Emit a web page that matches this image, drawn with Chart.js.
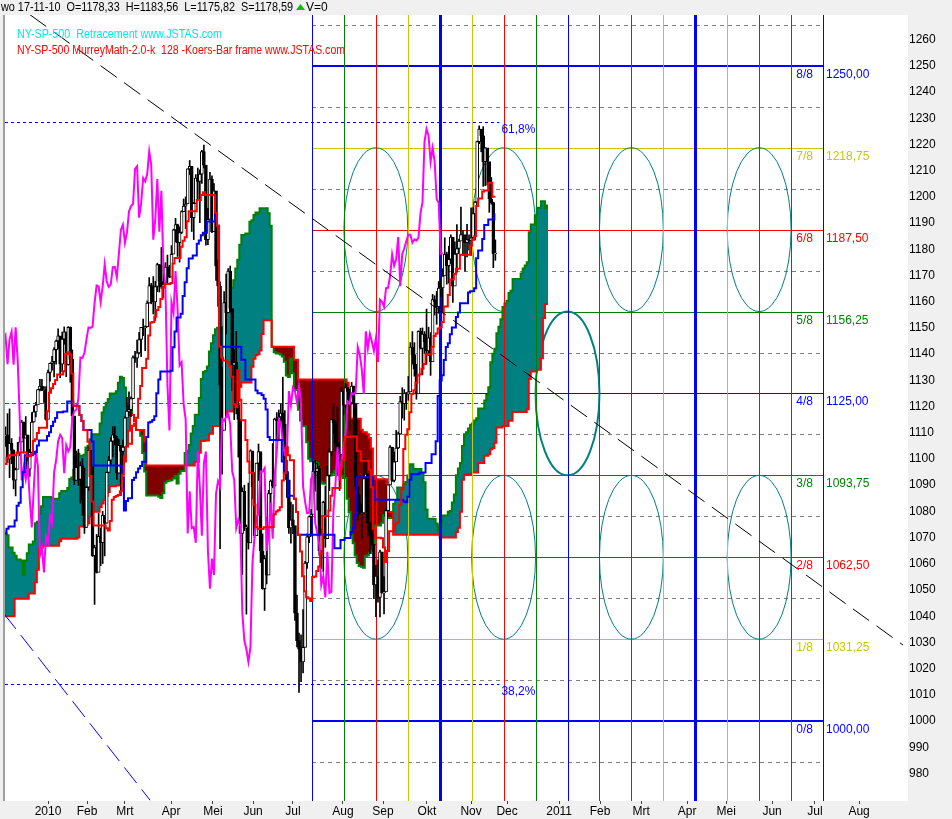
<!DOCTYPE html>
<html>
<head>
<meta charset="utf-8">
<title>NY-SP-500 Ichimoku / MurreyMath</title>
<script src="https://cdn.jsdelivr.net/npm/chart.js@4.4.0/dist/chart.umd.min.js"></script>
<style>
  html, body { margin: 0; padding: 0; background: #f0f0f0; }
  canvas { display: block; }
</style>
</head>
<body>
<canvas id="chart" width="952" height="819"></canvas>
<script>
// Daily S&P 500 bars (high / low / close). Aug-Nov 2009 are only there to feed the Ichimoku lines.
const hiAug09 = [1003.6, 1005.8, 1006.6, 1008.0, 1018.0, 1010.1, 1005.8, 1012.8, 1013.1, 1012.6, 998.6, 991.2, 999.0, 1008.9, 1027.6, 1035.8, 1037.8, 1032.5, 1033.0, 1039.5, 1025.2];
const loAug09 = [990.2, 994.7, 994.3, 992.5, 1001.0, 1001.0, 992.4, 993.4, 1000.9, 994.6, 978.5, 980.6, 978.5, 996.4, 1009.6, 1022.5, 1026.2, 1021.0, 1016.2, 1023.1, 1014.6];
const clAug09 = [1002.6, 1005.7, 1002.7, 997.1, 1010.5, 1007.1, 994.4, 1005.8, 1012.7, 1004.1, 979.7, 989.7, 996.5, 1007.4, 1026.1, 1025.6, 1028.0, 1028.1, 1031.0, 1028.9, 1020.6];

const hiSep09 = [1028.5, 1000.3, 1003.4, 1016.5, 1026.1, 1036.3, 1044.1, 1048.2, 1049.7, 1056.0, 1068.8, 1074.8, 1071.5, 1067.3, 1073.8, 1080.2, 1066.3, 1053.5, 1065.1, 1069.6, 1063.4];
const loSep09 = [996.3, 992.0, 992.3, 1001.7, 1018.7, 1018.8, 1028.0, 1038.4, 1035.0, 1043.4, 1052.6, 1061.2, 1064.3, 1057.5, 1066.4, 1060.4, 1045.9, 1041.2, 1044.4, 1057.8, 1046.5];
const clSep09 = [998.0, 994.8, 1003.2, 1016.4, 1025.4, 1033.4, 1044.1, 1042.7, 1049.3, 1052.6, 1068.8, 1065.5, 1068.3, 1064.7, 1071.7, 1060.9, 1050.8, 1044.4, 1063.0, 1060.6, 1057.1];

const hiOct09 = [1054.6, 1030.6, 1042.6, 1060.6, 1058.0, 1070.7, 1073.0, 1079.5, 1075.1, 1093.2, 1096.6, 1094.7, 1098.6, 1098.6, 1101.4, 1095.2, 1095.8, 1094.4, 1072.5, 1063.4, 1066.8, 1070.2];
const loOct09 = [1029.5, 1020.0, 1021.0, 1041.2, 1050.5, 1057.6, 1063.4, 1071.6, 1067.4, 1078.7, 1086.4, 1081.5, 1086.2, 1086.2, 1080.8, 1074.3, 1075.3, 1063.4, 1060.6, 1042.2, 1042.6, 1034.0];
const clOct09 = [1029.9, 1025.2, 1040.5, 1054.7, 1057.6, 1065.5, 1071.5, 1076.2, 1073.2, 1092.0, 1096.6, 1087.7, 1097.9, 1091.1, 1081.4, 1092.9, 1079.6, 1067.0, 1063.4, 1042.6, 1066.1, 1036.2];

const hiNov09 = [1052.2, 1046.0, 1061.0, 1066.6, 1071.5, 1093.2, 1096.1, 1105.4, 1101.4, 1097.6, 1113.7, 1110.3, 1111.1, 1106.0, 1094.7, 1112.4, 1107.6, 1111.1, 1105.7, 1097.2];
const loNov09 = [1029.4, 1033.9, 1045.2, 1047.5, 1059.3, 1071.0, 1087.4, 1093.0, 1085.0, 1085.3, 1094.2, 1102.2, 1102.7, 1088.4, 1086.8, 1094.2, 1097.6, 1104.8, 1083.7, 1086.3];
const clNov09 = [1042.9, 1045.4, 1046.5, 1066.6, 1069.3, 1093.1, 1093.0, 1098.5, 1087.2, 1093.5, 1109.3, 1110.3, 1109.8, 1094.9, 1091.4, 1106.2, 1105.7, 1110.6, 1091.5, 1095.6];

const hiDec09 = [1110.7, 1112.3, 1117.3, 1119.1, 1107.8, 1103.5, 1096.5, 1106.3, 1108.4, 1114.8, 1114.1, 1116.2, 1106.9, 1103.7, 1117.7, 1120.3, 1121.6, 1126.5, 1130.4, 1130.4, 1127.6, 1127.6];
const loDec09 = [1097.6, 1104.8, 1098.7, 1092.9, 1098.2, 1088.6, 1085.9, 1098.3, 1101.3, 1107.7, 1102.3, 1108.0, 1093.9, 1093.4, 1102.5, 1114.0, 1116.0, 1121.0, 1126.0, 1126.1, 1121.6, 1114.8];
const clDec09 = [1108.9, 1109.2, 1099.9, 1106.0, 1103.3, 1091.9, 1096.0, 1102.4, 1106.4, 1114.1, 1107.9, 1109.2, 1096.1, 1102.5, 1114.1, 1118.0, 1120.6, 1126.5, 1127.8, 1126.2, 1126.4, 1115.1];

const hiJan10 = [1133.9, 1136.6, 1139.2, 1142.5, 1145.4, 1149.7, 1143.0, 1148.4, 1150.4, 1147.8, 1150.5, 1150.4, 1141.6, 1115.5, 1103.0, 1103.7, 1098.9, 1100.2, 1096.5];
const loJan10 = [1116.6, 1129.7, 1133.9, 1131.3, 1136.2, 1142.0, 1131.0, 1133.2, 1143.8, 1131.4, 1135.8, 1129.3, 1114.8, 1090.2, 1092.4, 1089.9, 1083.1, 1078.5, 1071.6];
const clJan10 = [1133.0, 1136.5, 1137.1, 1141.7, 1145.0, 1147.0, 1136.2, 1145.7, 1148.5, 1136.0, 1150.2, 1138.0, 1116.5, 1091.8, 1096.8, 1092.2, 1097.5, 1084.5, 1073.9];

const hiFeb10 = [1089.4, 1104.7, 1102.7, 1097.2, 1067.1, 1071.2, 1079.3, 1073.7, 1080.0, 1077.8, 1095.0, 1101.0, 1108.2, 1112.4, 1112.3, 1108.6, 1107.4, 1103.5, 1107.2];
const loFeb10 = [1073.9, 1088.0, 1094.0, 1062.8, 1044.5, 1056.5, 1058.6, 1059.3, 1060.1, 1063.0, 1075.5, 1094.7, 1097.7, 1100.8, 1105.4, 1092.2, 1094.6, 1086.0, 1097.6];
const clFeb10 = [1089.2, 1103.3, 1097.3, 1063.1, 1066.2, 1056.7, 1070.5, 1068.1, 1078.5, 1075.5, 1094.9, 1099.5, 1106.8, 1109.2, 1108.0, 1094.6, 1105.2, 1102.9, 1104.5];

const hiMar10 = [1116.1, 1123.5, 1125.6, 1123.7, 1139.4, 1141.1, 1145.4, 1148.3, 1150.2, 1153.4, 1150.8, 1160.3, 1169.2, 1167.0, 1169.6, 1167.8, 1174.7, 1174.2, 1180.7, 1173.9, 1174.9, 1177.8, 1173.9];
const loMar10 = [1105.4, 1116.5, 1116.6, 1116.1, 1125.1, 1136.8, 1134.9, 1140.1, 1139.0, 1147.0, 1141.3, 1150.4, 1159.5, 1159.2, 1155.3, 1152.9, 1163.8, 1163.7, 1165.1, 1161.5, 1167.7, 1167.3, 1169.2];
const clMar10 = [1115.7, 1118.3, 1118.8, 1123.0, 1138.7, 1138.5, 1140.5, 1145.6, 1150.2, 1150.0, 1150.5, 1159.5, 1166.2, 1165.8, 1159.9, 1165.8, 1174.2, 1167.7, 1165.7, 1166.6, 1173.2, 1173.3, 1169.4];

const hiApr10 = [1181.4, 1187.7, 1191.8, 1189.6, 1188.6, 1194.7, 1199.2, 1200.0, 1210.7, 1213.9, 1210.2, 1197.9, 1208.5, 1211.0, 1210.3, 1217.8, 1219.8, 1211.4, 1195.6, 1209.4, 1208.0];
const loApr10 = [1170.7, 1178.7, 1182.8, 1177.3, 1175.1, 1186.0, 1194.7, 1187.9, 1198.7, 1208.5, 1186.8, 1183.7, 1197.5, 1198.9, 1190.2, 1205.1, 1211.1, 1181.6, 1181.8, 1193.4, 1186.3];
const clApr10 = [1178.1, 1187.4, 1189.4, 1182.5, 1186.4, 1194.4, 1196.5, 1197.3, 1210.7, 1211.7, 1192.1, 1197.5, 1207.2, 1205.9, 1208.7, 1217.3, 1212.1, 1183.7, 1191.4, 1206.8, 1186.7];

const hiMay10 = [1205.1, 1197.0, 1176.0, 1167.6, 1135.1, 1163.9, 1170.5, 1172.6, 1173.6, 1157.2, 1141.8, 1148.7, 1124.3, 1107.3, 1089.0, 1090.0, 1074.8, 1090.8, 1103.5, 1102.7];
const loMay10 = [1188.6, 1168.1, 1158.2, 1065.8, 1094.2, 1112.0, 1147.7, 1155.7, 1156.1, 1126.1, 1115.0, 1117.2, 1100.7, 1071.6, 1055.9, 1072.7, 1040.8, 1065.6, 1069.7, 1084.8];
const clMay10 = [1202.3, 1173.6, 1165.9, 1128.2, 1110.9, 1159.7, 1155.8, 1171.7, 1157.4, 1135.7, 1136.9, 1120.8, 1115.1, 1071.6, 1087.7, 1073.6, 1074.0, 1068.0, 1103.1, 1089.4];

const hiJun10 = [1094.8, 1098.4, 1105.7, 1098.6, 1071.4, 1063.2, 1077.7, 1088.0, 1092.0, 1105.9, 1115.6, 1117.7, 1118.7, 1121.0, 1131.2, 1118.5, 1099.6, 1088.2, 1083.6, 1082.6, 1071.0, 1048.1];
const loJun10 = [1069.9, 1072.1, 1091.8, 1060.5, 1050.3, 1042.2, 1052.3, 1058.0, 1077.7, 1089.0, 1091.7, 1107.2, 1107.1, 1113.9, 1108.2, 1094.2, 1085.3, 1071.6, 1067.9, 1071.5, 1038.4, 1028.3];
const clJun10 = [1070.7, 1098.4, 1102.8, 1064.9, 1050.5, 1062.0, 1055.7, 1086.8, 1091.6, 1089.6, 1115.2, 1114.6, 1116.0, 1117.5, 1113.2, 1095.3, 1092.0, 1073.7, 1076.8, 1074.6, 1041.2, 1030.7];

const hiJul10 = [1033.6, 1032.9, 1042.5, 1060.9, 1071.3, 1078.2, 1080.8, 1099.1, 1099.5, 1098.4, 1097.2, 1073.1, 1083.9, 1089.7, 1097.5, 1103.7, 1115.0, 1121.0, 1114.7, 1119.9, 1106.4];
const loJul10 = [1010.9, 1015.0, 1018.4, 1028.3, 1058.2, 1068.1, 1070.5, 1080.5, 1087.7, 1080.5, 1063.3, 1058.2, 1056.9, 1066.3, 1071.8, 1087.9, 1101.3, 1109.8, 1103.1, 1093.9, 1088.0];
const clJul10 = [1027.4, 1022.6, 1028.1, 1060.3, 1070.3, 1078.0, 1078.8, 1095.3, 1095.2, 1096.5, 1064.9, 1071.3, 1083.5, 1069.6, 1093.7, 1102.7, 1115.0, 1113.8, 1106.1, 1101.5, 1101.6];

const hiAug10 = [1127.3, 1125.4, 1128.8, 1126.6, 1126.6, 1129.2, 1127.8, 1114.6, 1086.6, 1086.3, 1082.6, 1100.1, 1099.8, 1092.8, 1075.6, 1081.6, 1067.4, 1059.4, 1061.5, 1065.2, 1064.3, 1055.1];
const loAug10 = [1107.7, 1116.8, 1119.5, 1118.8, 1111.0, 1120.9, 1108.5, 1088.5, 1076.7, 1079.0, 1069.5, 1079.4, 1085.8, 1070.7, 1063.9, 1067.1, 1046.7, 1039.8, 1045.4, 1039.7, 1048.8, 1040.9];
const clAug10 = [1125.9, 1120.5, 1127.2, 1125.8, 1121.6, 1127.8, 1121.1, 1089.5, 1083.6, 1079.3, 1079.4, 1092.5, 1094.2, 1075.6, 1071.7, 1067.4, 1051.9, 1055.3, 1047.2, 1064.6, 1048.9, 1049.3];

const hiSep10 = [1081.3, 1090.1, 1105.1, 1103.1, 1102.6, 1110.9, 1110.3, 1123.9, 1127.2, 1126.5, 1125.4, 1131.5, 1144.4, 1148.6, 1144.4, 1136.1, 1148.9, 1149.9, 1150.0, 1148.6, 1157.2];
const loSep10 = [1049.7, 1080.4, 1094.6, 1091.4, 1091.2, 1101.0, 1103.9, 1109.6, 1115.6, 1114.8, 1118.9, 1122.4, 1125.6, 1136.2, 1131.6, 1122.8, 1131.0, 1142.0, 1132.1, 1140.3, 1136.1];
const clSep10 = [1080.3, 1090.1, 1104.5, 1091.8, 1098.9, 1104.2, 1109.6, 1121.9, 1121.1, 1125.1, 1124.7, 1125.6, 1142.7, 1139.8, 1134.3, 1124.8, 1148.7, 1142.2, 1147.7, 1144.7, 1141.2];

const hiOct10 = [1150.3, 1148.2, 1162.8, 1162.3, 1163.9, 1167.7, 1168.7, 1172.6, 1184.4, 1178.9, 1181.2, 1185.5, 1178.8, 1182.9, 1189.4, 1183.9, 1196.1, 1187.1, 1183.4, 1189.5, 1185.5];
const loOct10 = [1139.4, 1131.9, 1140.7, 1154.9, 1151.4, 1155.6, 1162.0, 1155.7, 1171.3, 1166.7, 1167.1, 1174.6, 1159.7, 1166.7, 1171.2, 1178.3, 1184.7, 1177.7, 1171.7, 1177.1, 1179.7];
const clOct10 = [1146.2, 1137.0, 1160.8, 1160.0, 1158.1, 1165.2, 1165.3, 1169.8, 1178.1, 1173.8, 1176.2, 1184.7, 1165.9, 1178.2, 1180.3, 1183.1, 1185.6, 1185.6, 1182.5, 1183.8, 1183.3];

const hiNov10 = [1195.8, 1195.9, 1198.3, 1221.3, 1227.1, 1224.6, 1226.8, 1218.8, 1215.5, 1210.5, 1207.4, 1198.0, 1183.6];
const loNov10 = [1177.7, 1187.9, 1183.6, 1198.3, 1220.3, 1217.2, 1204.0, 1204.3, 1204.5, 1194.1, 1197.2, 1173.0, 1175.8];
const clNov10 = [1184.4, 1193.6, 1198.0, 1221.1, 1225.9, 1223.3, 1213.4, 1218.7, 1213.5, 1199.2, 1197.8, 1178.3, 1178.6];

// quote line of the last bar
const headerQuote = ['wo 17-11-10', 'O=1178,33', 'H=1183,56', 'L=1175,82', 'S=1178,59'];

// bottom axis: month ticks in bar units (bar 0 = 1 Dec 2009)
const monthTicks = [22, 41.3, 60, 82.8, 103.5, 123.3, 143, 167.7, 187.5, 209.2, 231, 248.8, 274.5, 294.7, 315, 337.7, 357, 379.7, 400.9, 422.7];
const monthLabels = ['2010', 'Feb', 'Mrt', 'Apr', 'Mei', 'Jun', 'Jul', 'Aug', 'Sep', 'Okt', 'Nov', 'Dec', '2011', 'Feb', 'Mrt', 'Apr', 'Mei', 'Jun', 'Jul', 'Aug'];
const priceTicks = [980, 990, 1000, 1010, 1020, 1030, 1040, 1050, 1060, 1070, 1080, 1090, 1100, 1110, 1120, 1130, 1140, 1150, 1160, 1170, 1180, 1190, 1200, 1210, 1220, 1230, 1240, 1250, 1260];

// MurreyMath frame (128 bars wide, 16 columns)
const murreyLevels = [1000, 1031.25, 1062.5, 1093.75, 1125, 1156.25, 1187.5, 1218.75, 1250];
const murreyNames = ['0/8', '1/8', '2/8', '3/8', '4/8', '5/8', '6/8', '7/8', '8/8'];
const murreyTexts = ['1000,00', '1031,25', '1062,50', '1093,75', '1125,00', '1156,25', '1187,50', '1218,75', '1250,00'];
const murreyColors = ['#0000ff', '#c8c800', '#ff0000', '#008000', '#0000ff', '#008000', '#ff0000', '#c8c800', '#0000ff'];
const murreyWidths = [2, 1, 1, 1, 1, 1, 1, 1, 2];
const halfLevels = [984.375, 1015.625, 1046.875, 1078.125, 1109.375, 1140.625, 1171.875, 1203.125, 1234.375, 1265.625];
const murreyStep = 31.25;
const frameStart = 152.4;
const frameStep = 15.78;
const frameColors = ['#0000ff', '#008000', '#ff0000', '#c8c800', '#0000ff', '#c8c800', '#ff0000', '#008000', '#0000ff',
                     '#008000', '#ff0000', '#c8c800', '#0000ff', '#c8c800', '#ff0000', '#008000', '#0000ff'];
const frameWidths = [1, 1, 1, 1, 3, 1, 1, 1, 1, 1, 1, 1, 3, 1, 1, 1, 1];
const ellipseCols = [2, 6, 10, 14];
const ellipseLevels = [1187.5, 1062.5];
const boldEllipse = { col: 8, level: 1125 };

// retracement and other helper lines
const retraceLevels = [1228.6, 1014.2];
const retraceNames = ['61,8%', '38,2%'];
const retraceEnd = 245;
const redDash = { level: 1121.4, end: 243 };
const trendBlack = [{ x: 13.1, y: 1269.5 }, { x: 444.4, y: 1029.0 }];
const trendBlue = [{ x: 0, y: 1041.2 }, { x: 72.4, y: 969.8 }];

const highs = [].concat(hiAug09, hiSep09, hiOct09, hiNov09, hiDec09, hiJan10, hiFeb10, hiMar10, hiApr10, hiMay10, hiJun10, hiJul10, hiAug10, hiSep10, hiOct10, hiNov10);
const lows = [].concat(loAug09, loSep09, loOct09, loNov09, loDec09, loJan10, loFeb10, loMar10, loApr10, loMay10, loJun10, loJul10, loAug10, loSep10, loOct10, loNov10);
const closes = [].concat(clAug09, clSep09, clOct09, clNov09, clDec09, clJan10, clFeb10, clMar10, clApr10, clMay10, clJun10, clJul10, clAug10, clSep10, clOct10, clNov10);
const firstVisible = clAug09.length + clSep09.length + clOct09.length + clNov09.length;

// midpoint of the highest high and lowest low over the last len bars
function midRange(k, len) {
    const from = Math.max(0, k - len + 1);
    const hi = Math.max(...highs.slice(from, k + 1));
    const lo = Math.min(...lows.slice(from, k + 1));
    return (hi + lo) / 2;
}

// Build the Ichimoku lines and the candles
const tenkan = [], kijun = [], chikou = [], senkouA = [], senkouB = [], bodies = [], wicks = [];
for (let k = 0; k < closes.length; k++) {
    const bar = k - firstVisible;
    if (bar >= -2) {
        tenkan.push({ x: bar, y: midRange(k, 9) });
        kijun.push({ x: bar, y: midRange(k, 26) });
        bodies.push({ x: bar, y: [closes[k - 1], closes[k]] });
        wicks.push({ x: bar, y: [lows[k], highs[k]] });
    }
    if (bar - 26 >= -2) chikou.push({ x: bar - 26, y: closes[k] });
    if (k >= 51 && bar + 26 >= -2) {
        senkouA.push({ x: bar + 26, y: (midRange(k, 9) + midRange(k, 26)) / 2 });
        senkouB.push({ x: bar + 26, y: midRange(k, 52) });
    }
}

function hLine(ctx, xa, xb, y, width) {
    const yy = width % 2 ? Math.round(y) + 0.5 : Math.round(y);
    ctx.lineWidth = width;
    ctx.beginPath();
    ctx.moveTo(xa, yy);
    ctx.lineTo(xb, yy);
    ctx.stroke();
}

// Background, MurreyMath grid, ellipses, texts
const framePlugin = {
    id: 'frame',
    beforeDraw(chart) {
        const { ctx, chartArea: a, scales: { x, y } } = chart;
        ctx.save();
        ctx.fillStyle = '#f0f0f0';
        ctx.fillRect(0, 0, chart.width, chart.height);
        ctx.fillStyle = '#ffffff';
        ctx.fillRect(a.left, a.top, a.right - a.left, a.bottom - a.top);
        ctx.fillStyle = '#a0a0a0';
        ctx.fillRect(a.left - 2, a.top, 2, a.bottom - a.top);

        ctx.beginPath();
        ctx.rect(a.left, a.top, a.right - a.left, a.bottom - a.top);
        ctx.clip();

        const fx0 = Math.round(x.getPixelForValue(frameStart));
        const fx1 = Math.round(x.getPixelForValue(frameStart + 16 * frameStep));

        // 1/16 levels
        ctx.strokeStyle = '#808080';
        ctx.setLineDash([4, 4]);
        halfLevels.forEach(v => hLine(ctx, fx0, fx1, y.getPixelForValue(v), 1));

        ctx.strokeStyle = '#ff0000';
        ctx.setLineDash([4, 3]);
        hLine(ctx, a.left, x.getPixelForValue(redDash.end), y.getPixelForValue(redDash.level), 1);

        ctx.strokeStyle = '#0000ff';
        ctx.setLineDash([3, 3]);
        retraceLevels.forEach(v => hLine(ctx, a.left, x.getPixelForValue(retraceEnd), y.getPixelForValue(v), 1));
        ctx.setLineDash([]);

        // 0/8 .. 8/8 levels
        murreyLevels.forEach((v, i) => {
            ctx.strokeStyle = murreyColors[i];
            hLine(ctx, fx0, fx1, y.getPixelForValue(v), murreyWidths[i]);
        });

        // time/price ellipses
        const drawEllipse = (col, level, width) => {
            const cx = x.getPixelForValue(frameStart + col * frameStep);
            const rx = x.getPixelForValue(frameStart + (col + 1) * frameStep) - cx;
            const cy = y.getPixelForValue(level);
            const ry = y.getPixelForValue(level - murreyStep) - cy;
            ctx.strokeStyle = '#008080';
            ctx.lineWidth = width;
            ctx.beginPath();
            ctx.ellipse(cx, cy, rx, ry, 0, 0, Math.PI * 2);
            ctx.stroke();
        };
        ellipseLevels.forEach(level => ellipseCols.forEach(col => drawEllipse(col, level, 1)));
        drawEllipse(boldEllipse.col, boldEllipse.level, 2);
        ctx.restore();
    },
    beforeDatasetDraw(chart, args) {
        // vertical frame lines go over the cloud but under the candles
        if (args.index !== 4) return;
        const { ctx, chartArea: a, scales: { x } } = chart;
        ctx.save();
        frameColors.forEach((c, k) => {
            const w = frameWidths[k];
            const px = Math.round(x.getPixelForValue(frameStart + k * frameStep)) + (w % 2 ? 0.5 : 0);
            ctx.strokeStyle = c;
            ctx.lineWidth = w;
            ctx.beginPath();
            ctx.moveTo(px, a.top);
            ctx.lineTo(px, a.bottom);
            ctx.stroke();
        });
        ctx.restore();
    },
    afterDatasetsDraw(chart) {
        const { ctx, scales: { x, y } } = chart;
        const fx1 = Math.round(x.getPixelForValue(frameStart + 16 * frameStep));
        ctx.save();
        ctx.font = '12px "Liberation Sans", Arial, sans-serif';
        ctx.textBaseline = 'alphabetic';
        murreyLevels.forEach((v, i) => {
            const py = Math.round(y.getPixelForValue(v)) + 12;
            ctx.fillStyle = murreyColors[i];
            ctx.textAlign = 'right';
            ctx.fillText(murreyNames[i], fx1 - 10, py);
            ctx.textAlign = 'left';
            ctx.fillText(murreyTexts[i], fx1 + 3, py);
        });
        ctx.fillStyle = '#0000ff';
        ctx.textAlign = 'left';
        retraceLevels.forEach((v, i) => {
            ctx.fillText(retraceNames[i], x.getPixelForValue(retraceEnd) + 2, Math.round(y.getPixelForValue(v)) + 11);
        });

        ctx.fillStyle = '#00e8e8';
        ctx.fillText('NY-SP-500  Retracement www.JSTAS.com', 17, 38, 205);
        ctx.fillStyle = '#ff0000';
        ctx.fillText('NY-SP-500 MurreyMath-2.0-k  128 -Koers-Bar frame www.JSTAS.com', 17, 54, 328);
        ctx.restore();
    },
    afterDraw(chart) {
        const { ctx } = chart;
        ctx.save();
        ctx.font = '12px "Liberation Sans", Arial, sans-serif';
        ctx.fillStyle = '#000000';
        ctx.textBaseline = 'alphabetic';
        ctx.textAlign = 'left';
        ctx.fillText(headerQuote.join('  '), 1, 11, 292);
        ctx.fillStyle = '#00c000';
        ctx.beginPath();
        ctx.moveTo(296, 10);
        ctx.lineTo(305, 10);
        ctx.lineTo(300.5, 4);
        ctx.closePath();
        ctx.fill();
        ctx.fillStyle = '#000000';
        ctx.fillText('V=0', 306, 11);
        ctx.restore();
    }
};

Chart.defaults.font.family = '"Liberation Sans", Arial, sans-serif';
Chart.defaults.font.size = 12;
Chart.defaults.color = '#000000';

new Chart(document.getElementById('chart'), {
    type: 'line',
    data: {
        datasets: [
            { label: 'Tenkan', data: tenkan, borderColor: '#ff0000', borderWidth: 2, stepped: 'middle', order: 1 },
            { label: 'Kijun', data: kijun, borderColor: '#0000ff', borderWidth: 2, stepped: 'middle', order: 2 },
            { label: 'Chikou', data: chikou, borderColor: '#ff00ff', borderWidth: 2, order: 3 },
            {
                type: 'bar', label: 'Body', data: bodies, barThickness: 3, grouped: false, order: 4,
                borderColor: '#000000', borderWidth: 1, borderSkipped: false,
                backgroundColor: c => (c.raw && c.raw.y[1] >= c.raw.y[0] ? '#ffffff' : '#000000')
            },
            { type: 'bar', label: 'Wick', data: wicks, barThickness: 1, grouped: false, order: 5, backgroundColor: '#000000' },
            { label: 'Senkou B', data: senkouB, borderColor: '#ff0000', borderWidth: 2, stepped: 'middle', order: 6 },
            {
                label: 'Senkou A', data: senkouA, borderColor: '#008000', borderWidth: 2, stepped: 'middle', order: 7,
                fill: { target: 5, above: '#008080', below: '#800000' }
            },
            { label: 'Trend', data: trendBlack, borderColor: '#000000', borderWidth: 1, borderDash: [20, 9], order: 0 },
            { label: 'Trend 2', data: trendBlue, borderColor: '#0000ff', borderWidth: 1, borderDash: [20, 8], order: 0 }
        ]
    },
    options: {
        responsive: false,
        animation: false,
        events: [],
        layout: { padding: { left: 5, top: 15, right: 0, bottom: 0 } },
        elements: { point: { radius: 0 }, line: { tension: 0 } },
        plugins: { legend: { display: false }, tooltip: { enabled: false } },
        scales: {
            x: {
                type: 'linear',
                min: 0.75,
                max: 446.85,
                offset: false,
                afterBuildTicks: s => { s.ticks = monthTicks.map(v => ({ value: v })); },
                afterFit: s => { s.height = 18; },
                ticks: { autoSkip: false, maxRotation: 0, padding: 0, callback: (v, i) => monthLabels[i] },
                grid: { offset: false, drawOnChartArea: false, tickLength: 3, color: '#404040' },
                border: { display: false }
            },
            y: {
                type: 'linear',
                position: 'right',
                min: 969.5,
                max: 1269.4,
                afterBuildTicks: s => { s.ticks = priceTicks.map(v => ({ value: v })); },
                afterFit: s => { s.width = 44; },
                ticks: { crossAlign: 'near', padding: 1, callback: v => String(v) },
                grid: { display: false, drawTicks: false },
                border: { display: false }
            }
        }
    },
    plugins: [framePlugin]
});
</script>
</body>
</html>
